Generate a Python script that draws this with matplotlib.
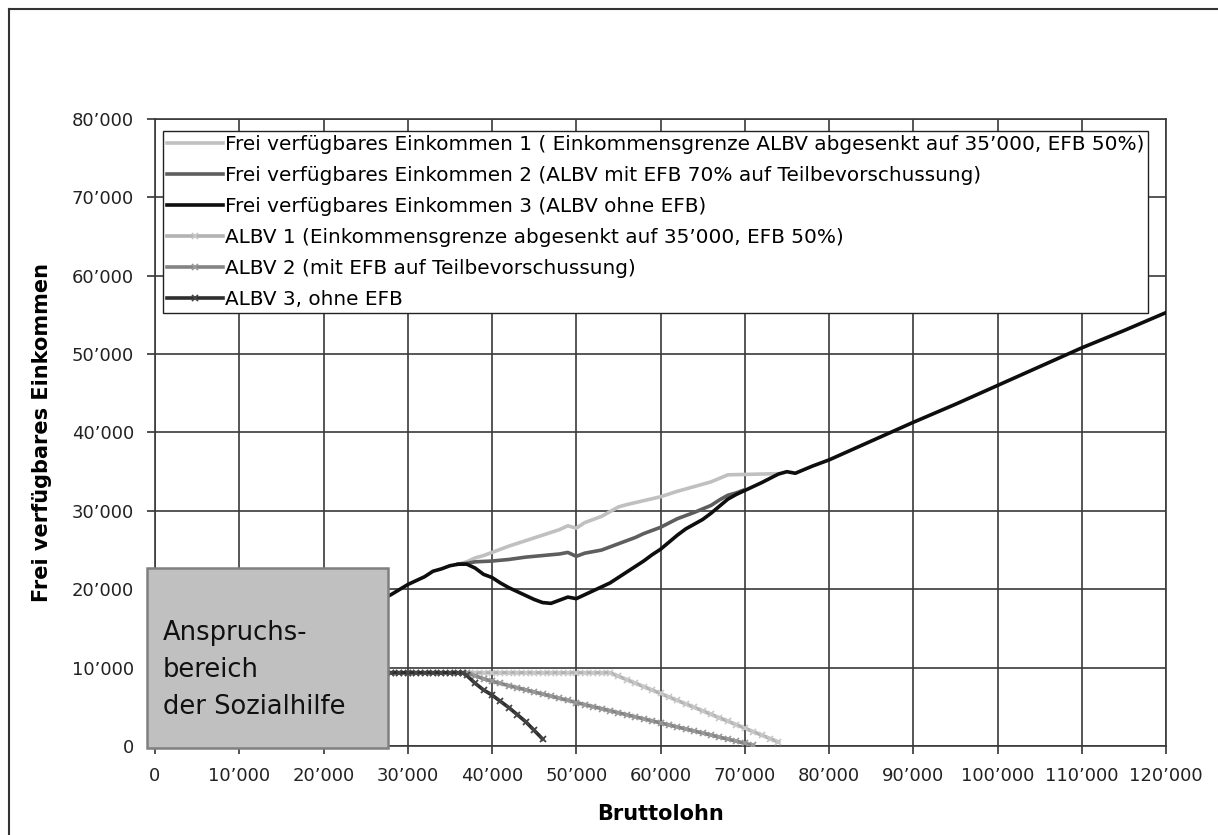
import matplotlib
matplotlib.use("Agg")
import matplotlib.pyplot as plt
import numpy as np
from matplotlib.lines import Line2D
from matplotlib.patches import Rectangle
from matplotlib.ticker import FuncFormatter, MultipleLocator

plt.rcParams["font.family"] = ["DejaVu Sans"]

# Frei verfügbares Einkommen (FVE), Bruttolohn -> Einkommen
fve3_x = [20000, 26000, 28000, 30000, 31000, 32000, 33000, 34000, 35000, 36000,
          37000, 38000, 39000, 40000, 41000, 42000, 43000, 44000, 45000, 46000,
          47000, 48000, 49000, 50000, 51000, 52000, 53000, 54000, 55000, 56000,
          57000, 58000, 59000, 60000, 61000, 62000, 63000, 64000, 65000, 66000,
          67000, 68000, 69000, 70000, 72000, 74000, 75000, 76000, 78000, 80000,
          85000, 90000, 95000, 100000, 105000, 110000, 115000, 120000]
fve3_y = [16000, 18300, 19300, 20600, 21100, 21600, 22300, 22600, 23000, 23200,
          23200, 22700, 21900, 21500, 20800, 20200, 19700, 19200, 18700, 18300,
          18200, 18600, 19000, 18800, 19300, 19800, 20300, 20800, 21500, 22200,
          22900, 23600, 24400, 25100, 26000, 26900, 27700, 28300, 28900, 29700,
          30600, 31500, 32100, 32600, 33600, 34700, 35000, 34800, 35700, 36500,
          38900, 41300, 43600, 46000, 48400, 50800, 53000, 55300]

fve2_x = [36000, 37000, 38000, 40000, 42000, 44000, 46000, 48000, 49000, 50000,
          51000, 52000, 53000, 54000, 55000, 56000, 57000, 58000, 60000, 62000,
          64000, 66000, 67000, 68000, 69000, 70000]
fve2_y = [23200, 23300, 23500, 23600, 23800, 24100, 24300, 24500, 24700, 24200,
          24600, 24800, 25000, 25400, 25800, 26200, 26600, 27100, 27900, 29000,
          29800, 30700, 31400, 32000, 32300, 32700]

fve1_x = [36000, 37000, 38000, 39000, 40000, 42000, 44000, 46000, 48000, 49000,
          50000, 51000, 52000, 53000, 54000, 55000, 56000, 58000, 60000, 62000,
          64000, 66000, 68000, 70000, 72000, 74000]
fve1_y = [23200, 23500, 24000, 24300, 24700, 25500, 26200, 26900, 27600, 28100,
          27800, 28500, 28900, 29300, 29900, 30500, 30800, 31300, 31800, 32500,
          33100, 33700, 34600, 34650, 34700, 34750]

# Alimentenbevorschussung (ALBV)
albv1_x = [27000, 28000, 29000, 30000, 31000, 32000, 33000, 34000, 35000, 36000,
           37000, 38000, 39000, 40000, 41000, 42000, 43000, 44000, 45000, 46000,
           47000, 48000, 49000, 50000, 51000, 52000, 53000, 54000, 55000, 56000,
           57000, 58000, 59000, 60000, 61000, 62000, 63000, 64000, 65000, 66000,
           67000, 68000, 69000, 70000, 71000, 72000, 73000, 74000]
albv1_y = [9350, 9350, 9350, 9350, 9350, 9350, 9350, 9350, 9350, 9350,
           9350, 9350, 9350, 9350, 9350, 9350, 9350, 9350, 9350, 9350,
           9350, 9350, 9350, 9350, 9350, 9350, 9350, 9350, 8900, 8470,
           8020, 7580, 7140, 6700, 6250, 5810, 5370, 4930, 4490, 4040,
           3600, 3160, 2720, 2280, 1830, 1390, 950, 500]

albv2_x = [27000, 28000, 29000, 30000, 31000, 32000, 33000, 34000, 35000, 36000,
           37000, 38000, 39000, 40000, 41000, 42000, 43000, 44000, 45000, 46000,
           47000, 48000, 49000, 50000, 51000, 52000, 53000, 54000, 55000, 56000,
           57000, 58000, 59000, 60000, 61000, 62000, 63000, 64000, 65000, 66000,
           67000, 68000, 69000, 70000, 71000]
albv2_y = [9350, 9350, 9350, 9350, 9350, 9350, 9350, 9350, 9350, 9350,
           9350, 8950, 8580, 8250, 7980, 7710, 7440, 7170, 6900, 6630,
           6360, 6090, 5820, 5550, 5290, 5030, 4770, 4510, 4250, 3990,
           3730, 3470, 3210, 2950, 2690, 2430, 2170, 1910, 1650, 1390,
           1130, 870, 610, 350, 90]

albv3_x = [27000, 28000, 29000, 30000, 31000, 32000, 33000, 34000, 35000, 36000,
           36500, 37000, 38000, 39000, 40000, 41000, 42000, 43000, 44000, 45000,
           46000]
albv3_y = [9350, 9350, 9350, 9350, 9350, 9350, 9350, 9350, 9350, 9350,
           9350, 9000, 8000, 7150, 6500, 5700, 4900, 4000, 3100, 2000,
           900]

labels = [
    "Frei verfügbares Einkommen 1 ( Einkommensgrenze ALBV abgesenkt auf 35’000, EFB 50%)",
    "Frei verfügbares Einkommen 2 (ALBV mit EFB 70% auf Teilbevorschussung)",
    "Frei verfügbares Einkommen 3 (ALBV ohne EFB)",
    "ALBV 1 (Einkommensgrenze abgesenkt auf 35’000, EFB 50%)",
    "ALBV 2 (mit EFB auf Teilbevorschussung)",
    "ALBV 3, ohne EFB",
]

fig = plt.figure(figsize=(12.18, 8.35), dpi=100)
ax = fig.add_axes([155 / 1218, 1 - 746 / 835, 1011 / 1218, 627 / 835])

lw = 2.6
ax.plot(fve1_x, fve1_y, color="#c0c0c0", lw=lw, label=labels[0], zorder=3)
ax.plot(fve2_x, fve2_y, color="#5e5e5e", lw=lw, label=labels[1], zorder=4)
ax.plot(fve3_x, fve3_y, color="#0e0e0e", lw=lw, label=labels[2], zorder=5)
ax.plot(albv1_x, albv1_y, color="#b2b2b2", lw=lw, marker="x", ms=5, mew=1.3,
        mec="#c8c8c8", label=labels[3], zorder=3)
ax.plot(albv2_x, albv2_y, color="#848484", lw=lw, marker="x", ms=5, mew=1.3,
        mec="#9a9a9a", label=labels[4], zorder=4)
ax.plot(albv3_x, albv3_y, color="#2e2e2e", lw=lw, marker="x", ms=5, mew=1.3,
        mec="#454545", label=labels[5], zorder=5)

ax.set_xlim(0, 120000)
ax.set_ylim(0, 80000)
ax.xaxis.set_major_locator(MultipleLocator(10000))
ax.yaxis.set_major_locator(MultipleLocator(10000))
fmt = FuncFormatter(lambda v, p: f"{int(v):,}".replace(",", "’"))
ax.xaxis.set_major_formatter(fmt)
ax.yaxis.set_major_formatter(fmt)
ax.tick_params(direction="out", length=6, width=1.2, color="#333333",
               labelsize=13, labelcolor="#222222", pad=9)
ax.grid(True, color="#3a3a3a", lw=1.2, zorder=1)
ax.set_axisbelow(True)
for s in ax.spines.values():
    s.set_color("#3a3a3a")
    s.set_linewidth(1.2)

ax.set_xlabel("Bruttolohn", fontsize=15, fontweight="bold", labelpad=14)
ax.set_ylabel("Frei verfügbares Einkommen", fontsize=15, fontweight="bold", labelpad=14)

leg = ax.legend(loc="upper left", bbox_to_anchor=(0.008, 0.981), borderaxespad=0,
                fontsize=14.4, handlelength=2.8, handletextpad=0.1,
                labelspacing=0.6, borderpad=0.2, fancybox=False, framealpha=1)
leg.get_frame().set_edgecolor("#222222")
leg.get_frame().set_linewidth(1.0)
leg.set_zorder(10)

# Sozialhilfe area
box = Rectangle((-950, -250), 28600, 22980, facecolor="#c0c0c0",
                edgecolor="#808080", lw=1.8, zorder=8, clip_on=False)
ax.add_patch(box)
ax.text(950, 9700, "Anspruchs-\nbereich\nder Sozialhilfe", fontsize=18.5,
        ha="left", va="center", linespacing=1.56, color="#111111", zorder=9)

# outer frame lines
fig.add_artist(Line2D([9 / 1218, 1.0], [1 - 9 / 835, 1 - 9 / 835],
                      color="#333333", lw=1.5, transform=fig.transFigure))
fig.add_artist(Line2D([9 / 1218, 9 / 1218], [0.0, 1 - 9 / 835],
                      color="#333333", lw=1.5, transform=fig.transFigure))

fig.savefig("out.png", dpi=100)
